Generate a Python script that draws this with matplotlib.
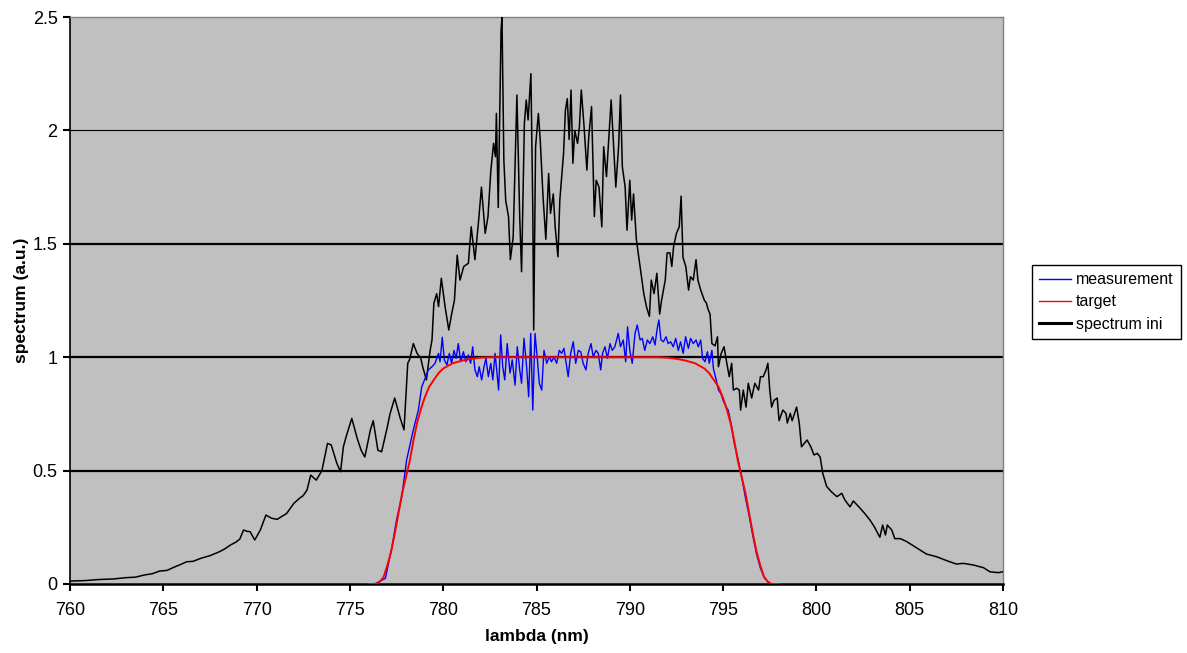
import matplotlib
matplotlib.use("Agg")
import matplotlib.pyplot as plt
from matplotlib.lines import Line2D

plt.rcParams['font.family'] = ['Liberation Sans', 'DejaVu Sans']

# ---------------- data ----------------
# spectrum ini (black)
ini_wl = [760.0, 760.8, 761.6, 762.3, 763.0, 763.5, 764.0, 764.4, 764.8, 765.2, 765.6, 765.9,
          766.25, 766.6, 767.0, 767.5, 768.0, 768.3, 768.6, 768.9, 769.1, 769.3, 769.5, 769.65,
          769.9, 770.2, 770.5, 770.8, 771.1, 771.35, 771.6, 772.0, 772.3, 772.5, 772.7, 772.9,
          773.2, 773.5, 773.8, 774.0, 774.3, 774.5, 774.65, 774.8, 775.1, 775.4, 775.6, 775.8,
          776.1, 776.25, 776.5, 776.7, 777.0, 777.15, 777.4, 777.7, 777.9, 778.0, 778.1, 778.2,
          778.4, 778.6, 778.8, 778.9, 779.1, 779.3, 779.4, 779.5, 779.65, 779.75, 779.9, 780.1,
          780.3, 780.45, 780.6, 780.75, 780.9, 781.1, 781.35, 781.5, 781.7, 781.9, 782.05, 782.25,
          782.4, 782.55, 782.7, 782.8, 782.85, 782.95, 783.1, 783.15, 783.25, 783.35, 783.5, 783.6,
          783.75, 783.95, 784.1, 784.2, 784.35, 784.45, 784.55, 784.7, 784.8, 784.85, 784.95, 785.1,
          785.2, 785.35, 785.5, 785.65, 785.75, 785.9, 786.0, 786.15, 786.25, 786.45, 786.55, 786.65,
          786.75, 786.85, 786.95, 787.05, 787.2, 787.3, 787.4, 787.55, 787.7, 787.8, 787.95, 788.1,
          788.2, 788.35, 788.5, 788.6, 788.75, 788.9, 789.0, 789.15, 789.25, 789.4, 789.5, 789.6,
          789.75, 789.85, 790.0, 790.1, 790.2, 790.35, 790.5, 790.65, 790.75, 790.9, 791.05, 791.15,
          791.3, 791.45, 791.6, 791.7, 791.9, 792.0, 792.15, 792.25, 792.35, 792.5, 792.65, 792.75,
          792.85, 793.0, 793.15, 793.25, 793.4, 793.55, 793.65, 793.8, 794.0, 794.1, 794.2, 794.3,
          794.4, 794.57, 794.7, 794.75, 794.9, 795.05, 795.2, 795.33, 795.46, 795.55, 795.73, 795.87,
          795.94, 796.08, 796.23, 796.35, 796.53, 796.7, 796.9, 797.0, 797.15, 797.3, 797.4, 797.5,
          797.6, 797.73, 797.9, 798.0, 798.2, 798.37, 798.44, 798.6, 798.7, 798.94, 799.08, 799.2,
          799.5, 799.7, 799.87, 800.05, 800.2, 800.34, 800.55, 800.8, 801.1, 801.36, 801.53, 801.8,
          801.98, 802.3, 802.6, 802.87, 803.1, 803.4, 803.55, 803.7, 803.8, 804.04, 804.2, 804.5,
          804.84, 805.2, 805.55, 805.9, 806.45, 806.98, 807.5, 807.87, 808.4, 808.95, 809.3, 809.75,
          810.0]
ini_val = [0.013, 0.015, 0.02, 0.022, 0.028, 0.03, 0.04, 0.045, 0.057, 0.06, 0.075, 0.085,
           0.098, 0.10, 0.113, 0.125, 0.142, 0.155, 0.172, 0.185, 0.198, 0.238, 0.232, 0.231,
           0.194, 0.238, 0.304, 0.29, 0.285, 0.298, 0.31, 0.356, 0.378, 0.39, 0.414, 0.48,
           0.458, 0.50, 0.62, 0.613, 0.532, 0.495, 0.605, 0.65, 0.73, 0.64, 0.59, 0.56,
           0.68, 0.72, 0.59, 0.583, 0.69, 0.75, 0.82, 0.73, 0.68, 0.826, 0.973, 0.99,
           1.06, 1.017, 0.995, 0.958, 0.90, 1.03, 1.076, 1.238, 1.28, 1.223, 1.348, 1.223,
           1.12, 1.19, 1.25, 1.45, 1.34, 1.40, 1.414, 1.575, 1.43, 1.605, 1.75, 1.546,
           1.62, 1.82, 1.943, 1.884, 2.075, 1.66, 2.44, 2.5, 1.87, 1.69, 1.62, 1.43,
           1.53, 2.156, 1.62, 1.377, 2.03, 2.134, 2.046, 2.25, 1.66, 1.12, 1.928, 2.075,
           1.958, 1.708, 1.52, 1.81, 1.634, 1.72, 1.575, 1.443, 1.693, 1.899, 2.09, 2.14,
           1.96, 2.178, 1.855, 2.0, 1.943, 2.016, 2.178, 2.016, 1.825, 1.972, 2.105, 1.62,
           1.78, 1.75, 1.575, 1.928, 1.796, 2.0, 2.134, 1.899, 1.75, 1.928, 2.156, 1.84,
           1.75, 1.56, 1.78, 1.605, 1.72, 1.52, 1.43, 1.34, 1.28, 1.22, 1.18, 1.34,
           1.28, 1.37, 1.19, 1.25, 1.34, 1.46, 1.46, 1.40, 1.49, 1.546, 1.575, 1.71,
           1.44, 1.40, 1.296, 1.355, 1.34, 1.43, 1.34, 1.296, 1.25, 1.24, 1.21, 1.19,
           1.06, 1.05, 1.09, 0.958, 1.017, 1.046, 0.973, 0.914, 0.973, 0.855, 0.863, 0.855,
           0.767, 0.855, 0.78, 0.885, 0.82, 0.885, 0.855, 0.914, 0.914, 0.944, 0.973, 0.855,
           0.78, 0.81, 0.82, 0.72, 0.767, 0.752, 0.71, 0.752, 0.72, 0.78, 0.71, 0.605,
           0.635, 0.605, 0.569, 0.576, 0.56, 0.488, 0.43, 0.407, 0.385, 0.40, 0.37, 0.34,
           0.366, 0.338, 0.31, 0.282, 0.253, 0.206, 0.26, 0.216, 0.26, 0.238, 0.20, 0.20,
           0.187, 0.168, 0.15, 0.132, 0.12, 0.103, 0.088, 0.091, 0.084, 0.072, 0.054, 0.05,
           0.054]

# measurement (blue)
meas_wl = [776.2, 776.4, 776.9, 777.24, 777.5, 777.78, 778.04, 778.4, 778.67, 778.85, 779.0, 779.2,
           779.4, 779.56, 779.75, 779.83, 779.95, 780.06, 780.2, 780.33, 780.45, 780.58, 780.69, 780.81,
           780.94, 781.08, 781.22, 781.35, 781.47, 781.58, 781.7, 781.83, 781.93, 782.06, 782.19, 782.29,
           782.42, 782.55, 782.66, 782.78, 782.9, 782.97, 783.08, 783.19, 783.3, 783.43, 783.58, 783.7,
           783.85, 783.97, 784.1, 784.2, 784.33, 784.47, 784.58, 784.69, 784.8, 784.92, 785.05, 785.15,
           785.28, 785.4, 785.55, 785.69, 785.8, 785.94, 786.08, 786.22, 786.35, 786.47, 786.62, 786.7,
           786.83, 786.97, 787.1, 787.24, 787.37, 787.5, 787.65, 787.77, 787.92, 788.04, 788.19, 788.31,
           788.44, 788.54, 788.67, 788.8, 788.94, 789.06, 789.2, 789.38, 789.5, 789.65, 789.78, 789.88,
           790.0, 790.13, 790.28, 790.4, 790.55, 790.67, 790.8, 790.94, 791.08, 791.23, 791.35, 791.47,
           791.56, 791.67, 791.8, 791.94, 792.06, 792.19, 792.33, 792.46, 792.6, 792.72, 792.86, 792.99,
           793.14, 793.26, 793.4, 793.55, 793.67, 793.8, 793.9, 794.03, 794.16, 794.26, 794.4, 794.48,
           794.63, 794.75, 794.88, 795.0, 795.16, 795.27, 795.46, 795.6, 795.8, 796.0, 796.2, 796.4,
           796.6, 796.8, 797.0, 797.2, 797.5]
meas_val = [0.0, 0.003, 0.025, 0.157, 0.282, 0.385, 0.547, 0.68, 0.767, 0.87, 0.90, 0.944,
            0.958, 0.973, 1.017, 0.98, 1.088, 0.988, 0.966, 1.017, 0.973, 1.03, 0.995, 1.06,
            0.98, 1.024, 0.98, 1.01, 0.973, 1.046, 0.944, 0.914, 0.958, 0.90, 0.958, 0.995,
            0.914, 0.973, 0.90, 1.017, 0.914, 0.855, 1.098, 0.958, 0.90, 1.06, 0.93, 0.988,
            0.877, 1.046, 0.944, 0.885, 1.083, 0.958, 0.826, 1.105, 0.767, 1.105, 0.988, 0.885,
            0.855, 1.03, 0.973, 1.002, 0.98, 1.0, 0.973, 1.03, 1.017, 1.039, 0.958, 0.914,
            1.017, 1.068, 0.973, 1.03, 1.024, 0.973, 0.944, 1.017, 1.06, 1.002, 1.03, 1.017,
            0.944, 1.017, 1.046, 0.995, 1.06, 1.03, 1.046, 1.105, 1.046, 1.076, 0.98, 1.134,
            1.03, 0.973, 1.105, 1.142, 1.076, 1.083, 1.03, 1.076, 1.06, 1.09, 1.054, 1.127,
            1.164, 1.076, 1.068, 1.09, 1.06, 1.068, 1.046, 1.083, 1.03, 1.068, 1.017, 1.09,
            1.039, 1.083, 1.06, 1.076, 1.046, 1.076, 0.995, 0.98, 1.024, 0.973, 1.03, 0.95,
            0.90, 0.855, 0.84, 0.81, 0.78, 0.767, 0.694, 0.62, 0.55, 0.47, 0.38, 0.30,
            0.21, 0.13, 0.07, 0.03, 0.0]

# target (red)
target_wl = [776.0, 776.4, 776.6, 776.8, 777.0, 777.2, 777.4, 777.6, 777.8, 778.0, 778.2, 778.4,
             778.6, 778.8, 779.0, 779.25, 779.5, 779.75, 780.0, 780.5, 781.0, 781.5, 782.0, 782.5,
             785.0, 790.0, 791.5, 792.0, 792.5, 793.0, 793.5, 794.0, 794.25, 794.5, 794.75, 795.0,
             795.2, 795.4, 795.6, 795.8, 796.0, 796.2, 796.4, 796.6, 796.8, 797.0, 797.2, 797.4,
             797.6, 798.0]
target_val = [0.0, 0.0, 0.01, 0.03, 0.08, 0.14, 0.22, 0.31, 0.40, 0.47, 0.54, 0.63,
              0.71, 0.77, 0.82, 0.87, 0.90, 0.93, 0.95, 0.973, 0.985, 0.993, 0.998, 1.0,
              1.0, 1.0, 1.0, 0.998, 0.993, 0.985, 0.973, 0.95, 0.93, 0.90, 0.87, 0.82,
              0.77, 0.71, 0.63, 0.54, 0.47, 0.40, 0.31, 0.22, 0.14, 0.08, 0.03, 0.01,
              0.0, 0.0]

x_ticks = [760, 765, 770, 775, 780, 785, 790, 795, 800, 805, 810]
y_ticks = [0, 0.5, 1, 1.5, 2, 2.5]
y_tick_labels = ['0', '0.5', '1', '1.5', '2', '2.5']
series_labels = ['measurement', 'target', 'spectrum ini']

# ---------------- figure ----------------
W, H = 1187, 653
fig = plt.figure(figsize=(W / 100, H / 100), dpi=100)
fig.patch.set_facecolor('white')
ax = fig.add_axes([70 / W, 1 - 584 / H, (1003 - 70) / W, (584 - 17) / H])
ax.set_facecolor('#C0C0C0')

ax.plot(ini_wl, ini_val, color='black', lw=1.1, zorder=3)
ax.plot(meas_wl, meas_val, color='#0000FF', lw=1.0, zorder=4)
ax.plot(target_wl, target_val, color='#FF0000', lw=1.4, zorder=5)

ax.set_xlim(760, 810)
ax.set_ylim(0, 2.5)
ax.set_xticks(x_ticks)
ax.set_xticklabels([str(t) for t in x_ticks])
ax.set_yticks(y_ticks)
ax.set_yticklabels(y_tick_labels)

ax.yaxis.grid(True, color='black', lw=1.6, zorder=1)
ax.set_axisbelow(True)
for t, gl in zip(y_ticks, ax.get_ygridlines()):
    if t == 2:
        gl.set_linewidth(0.8)
    if t in (0, 2.5):
        gl.set_visible(False)

for s in ('top', 'right'):
    ax.spines[s].set_color('#808080')
    ax.spines[s].set_linewidth(1.0)
ax.spines['left'].set_color('black')
ax.spines['left'].set_linewidth(1.2)
ax.spines['bottom'].set_color('black')
ax.spines['bottom'].set_linewidth(1.8)

ax.tick_params(axis='both', direction='out', length=5, width=1.5, colors='black', labelsize=13)
ax.tick_params(axis='y', pad=4)
ax.tick_params(axis='x', pad=8)

ax.set_xlabel('lambda (nm)', fontsize=12.5, fontweight='bold')
ax.set_ylabel('spectrum (a.u.)', fontsize=12.5, fontweight='bold')
ax.xaxis.set_label_coords(0.5, -0.08)
ax.yaxis.set_label_coords(-0.044, 0.5)

handles = [Line2D([], [], color='#0000FF', lw=1.0),
           Line2D([], [], color='#FF0000', lw=1.0),
           Line2D([], [], color='black', lw=2.2)]
leg = fig.legend(handles, series_labels, loc='upper left',
                 bbox_to_anchor=(1032 / W, 1 - 265 / H), fontsize=11.5,
                 frameon=True, fancybox=False, framealpha=1, edgecolor='black',
                 handlelength=2.0, handletextpad=0.3, labelspacing=0.45,
                 borderpad=0.45, borderaxespad=0)
leg.get_frame().set_linewidth(1.0)

fig.savefig('out.png', dpi=100)
